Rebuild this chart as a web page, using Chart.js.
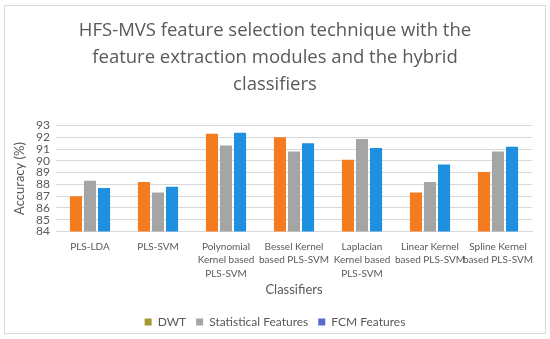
<!DOCTYPE html>
<html>
<head>
<meta charset="utf-8">
<script src="https://cdn.jsdelivr.net/npm/chart.js@4"></script>
<style>
  html, body { margin: 0; padding: 0; background: #fff; }
  #wrap { position: relative; width: 550px; height: 339px; }
  #frame { position: absolute; left: 4px; top: 5px; width: 540px; height: 327px;
           border: 1px solid #d9d9d9; pointer-events: none; }
</style>
</head>
<body>
<div id="wrap">
  <canvas id="mainChart" width="550" height="339"></canvas>
  <div id="frame"></div>
</div>
<script>
// data
const classifiers = [
  ['PLS-LDA'],
  ['PLS-SVM'],
  ['Polynomial', 'Kernel based', 'PLS-SVM'],
  ['Bessel Kernel', 'based PLS-SVM'],
  ['Laplacian', 'Kernel based', 'PLS-SVM'],
  ['Linear Kernel', 'based PLS-SVM'],
  ['Spline Kernel', 'based PLS-SVM']
];
const seriesNames = ['DWT', 'Statistical Features', 'FCM Features'];
const dwt = [87.0, 88.2, 92.3, 92.0, 90.1, 87.3, 89.05];
const statistical = [88.3, 87.3, 91.3, 90.8, 91.85, 88.2, 90.8];
const fcm = [87.7, 87.8, 92.4, 91.5, 91.1, 89.7, 91.2];
const yTicks = [84, 85, 86, 87, 88, 89, 90, 91, 92, 93];

const barColors = ['#f47b20', '#a5a5a5', '#1f8fe0'];
const legendColors = ['#a39b2e', '#a5a5a5', '#5a68cf'];
const textColor = '#595959';
const titleFont = '"Open Sans", Lato, sans-serif';
const labelFont = 'Lato, "Open Sans", sans-serif';

const ctx = document.getElementById('mainChart').getContext('2d');
new Chart(ctx, {
    type: 'bar',
    data: {
        labels: classifiers,
        datasets: [dwt, statistical, fcm].map((vals, i) => ({
            label: seriesNames[i],
            data: vals,
            backgroundColor: barColors[i],
            categoryPercentage: 0.62,
            barPercentage: 0.86
        }))
    },
    options: {
        responsive: false,
        animation: false,
        layout: { padding: { left: 12, right: 12, top: 17, bottom: 1 } },
        plugins: {
            title: {
                display: true,
                text: ['HFS-MVS feature selection technique with the',
                       'feature extraction modules and the hybrid',
                       'classifiers'],
                color: textColor,
                font: { family: titleFont, size: 18.5, weight: 'normal', lineHeight: 1.47 },
                padding: { top: 0, bottom: 27 }
            },
            legend: {
                position: 'bottom',
                labels: {
                    color: textColor,
                    font: { family: labelFont, size: 12 },
                    boxWidth: 7,
                    boxHeight: 7,
                    padding: 10,
                    generateLabels: chart => chart.data.datasets.map((ds, i) => ({
                        text: ds.label,
                        fillStyle: legendColors[i],
                        strokeStyle: legendColors[i],
                        lineWidth: 0,
                        fontColor: textColor,
                        datasetIndex: i
                    }))
                }
            },
            tooltip: { enabled: false }
        },
        scales: {
            x: {
                grid: { display: false },
                border: { display: true, color: '#d9d9d9' },
                ticks: {
                    color: textColor,
                    font: { family: labelFont, size: 10, lineHeight: 1.32 },
                    padding: 1,
                    maxRotation: 0,
                    autoSkip: false
                },
                title: {
                    display: true,
                    text: 'Classifiers',
                    color: textColor,
                    font: { family: labelFont, size: 13, lineHeight: 1.0 },
                    padding: { top: 2, bottom: 10 }
                }
            },
            y: {
                min: yTicks[0],
                max: yTicks[yTicks.length - 1],
                afterBuildTicks: axis => { axis.ticks = yTicks.map(v => ({ value: v })); },
                afterFit: axis => { axis.width = 44; },
                grid: { color: '#d9d9d9', drawTicks: false },
                border: { display: false },
                ticks: {
                    color: textColor,
                    font: { family: labelFont, size: 12 },
                    padding: 6,
                    autoSkip: false
                },
                title: {
                    display: true,
                    text: 'Accuracy (%)',
                    color: textColor,
                    font: { family: labelFont, size: 13 },
                    padding: { top: 0, bottom: 2 }
                }
            },
            yRight: {
                position: 'right',
                min: yTicks[0],
                max: yTicks[yTicks.length - 1],
                afterFit: axis => { axis.width = 6; },
                grid: { drawOnChartArea: false, drawTicks: false },
                border: { display: false },
                ticks: { display: false }
            }
        }
    }
});
</script>
</body>
</html>
